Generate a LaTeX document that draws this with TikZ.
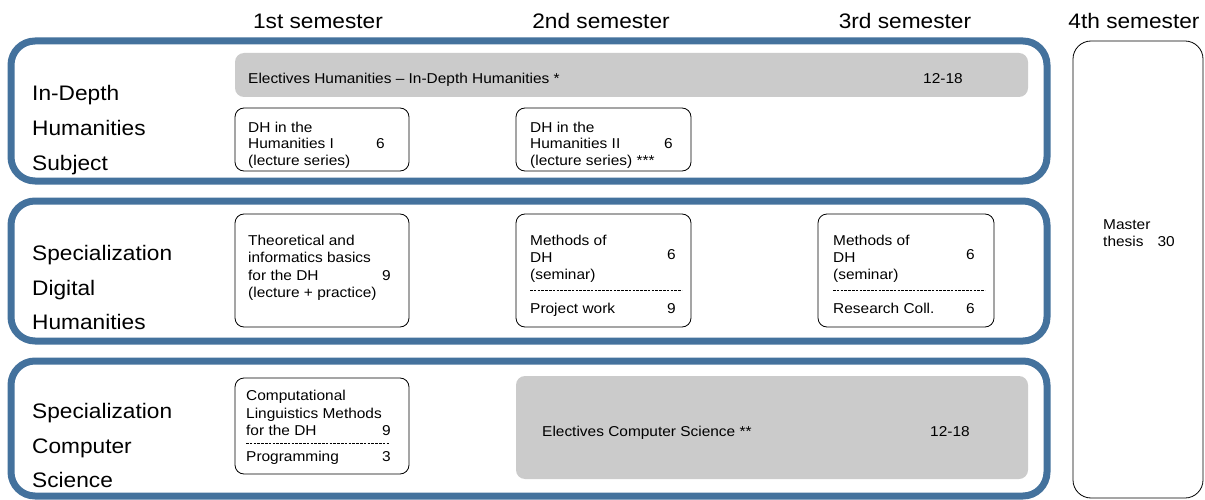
\documentclass[tikz,border=0pt]{standalone}
\usepackage{fontspec}
\setmainfont{Liberation Sans}[FakeStretch=1.08]
\definecolor{bandblue}{RGB}{68,114,157}
\definecolor{electgray}{RGB}{203,203,203}
\begin{document}
\begin{tikzpicture}[x=1pt,y=-1pt,
  band/.style={draw=bandblue,line width=7pt,rounded corners=24pt,inner sep=0pt,outer sep=0pt},
  module/.style={draw=black,line width=0.8pt,rounded corners=9pt,inner sep=0pt,outer sep=0pt,fill=white},
  elect/.style={fill=electgray,rounded corners=9pt,inner sep=0pt,outer sep=0pt},
  thesis/.style={draw=black,line width=0.8pt,rounded corners=18pt,inner sep=0pt,outer sep=0pt},
  hdr/.style={font=\fontsize{21}{24}\selectfont,anchor=base,inner sep=0pt},
  lbl/.style={font=\fontsize{21}{24}\selectfont,anchor=base west,inner sep=0pt},
  txt/.style={font=\fontsize{14.3}{16}\selectfont,anchor=base west,inner sep=0pt},
  num/.style={font=\fontsize{14.3}{16}\selectfont,anchor=base east,inner sep=0pt},
  sep/.style={line width=0.6pt,dash pattern=on 2.6pt off 1.2pt}]
\useasboundingbox (0,0) rectangle (1205,500);
% headers
\node[hdr] (h1) at (318,29) {1st semester};
\node[hdr] (h2) at (601,29) {2nd semester};
\node[hdr] (h3) at (905,29) {3rd semester};
\node[hdr] (h4) at (1134,29) {4th semester};
% bands
\node[band,minimum width=1036pt,minimum height=140pt] (b1) at (529,111) {};
\node[band,minimum width=1036pt,minimum height=140pt] (b2) at (529,271) {};
\node[band,minimum width=1036pt,minimum height=135pt] (b3) at (529,428.5) {};
% band labels
\node[lbl] (l1a) at (32,101) {In-Depth};
\node[lbl] (l1b) at (32,136) {Humanities};
\node[lbl] (l1c) at (32,171) {Subject};
\node[lbl] (l2a) at (32,260) {Specialization};
\node[lbl] (l2b) at (32,295) {Digital};
\node[lbl] (l2c) at (32,329) {Humanities};
\node[lbl] (l3a) at (32,418) {Specialization};
\node[lbl] (l3b) at (32,453) {Computer};
\node[lbl] (l3c) at (32,487) {Science};
% electives bars
\node[elect,minimum width=793pt,minimum height=44pt] (g1) at (631.5,75) {};
\node[txt] (g1t) at (248,84) {Electives Humanities – In-Depth Humanities *};
\node[txt] (g1n) at (923,84) {12-18};
\node[elect,minimum width=512pt,minimum height=103pt] (g2) at (772,427.5) {};
\node[txt] (g2t) at (542,436) {Electives Computer Science **};
\node[txt] (g2n) at (930,436) {12-18};
% DH in the Humanities I
\node[module,minimum width=174pt,minimum height=63pt] (dh1) at (322,139.5) {};
\node[txt] (dh1a) at (248,132.5) {DH in the};
\node[txt] (dh1b) at (248,149) {Humanities I};
\node[txt] (dh1c) at (248,165.5) {(lecture series)};
\node[num] (dh1n) at (385,149) {6};
% DH in the Humanities II
\node[module,minimum width=175pt,minimum height=63pt] (dh2) at (603.5,139.5) {};
\node[txt] (dh2a) at (530,132.5) {DH in the};
\node[txt] (dh2b) at (530,149) {Humanities II};
\node[txt] (dh2c) at (530,165.5) {(lecture series) ***};
\node[num] (dh2n) at (673,149) {6};
% Theoretical
\node[module,minimum width=174pt,minimum height=113pt] (th) at (322,270.5) {};
\node[txt] (tha) at (248,245) {Theoretical and};
\node[txt] (thb) at (248,262.5) {informatics basics};
\node[txt] (thc) at (248,280) {for the DH};
\node[txt] (thd) at (248,297) {(lecture + practice)};
\node[num] (thn) at (391,280) {9};
% Methods of DH (2nd)
\node[module,minimum width=175pt,minimum height=113pt] (m2) at (603.5,270.5) {};
\node[txt] (m2a) at (530,245) {Methods of};
\node[txt] (m2b) at (530,262) {DH};
\node[txt] (m2c) at (530,279) {(seminar)};
\node[num] (m2n) at (676,259) {6};
\coordinate (m2l) at (530,290);
\coordinate (m2r) at (682,290);
\draw[sep] (m2l) -- (m2r);
\node[txt] (m2d) at (530,313) {Project work};
\node[num] (m2e) at (676,313) {9};
% Methods of DH (3rd)
\node[module,minimum width=176pt,minimum height=113pt] (m3) at (906,270.5) {};
\node[txt] (m3a) at (833,245) {Methods of};
\node[txt] (m3b) at (833,262) {DH};
\node[txt] (m3c) at (833,279) {(seminar)};
\node[num] (m3n) at (975,259) {6};
\coordinate (m3l) at (833,290);
\coordinate (m3r) at (985,290);
\draw[sep] (m3l) -- (m3r);
\node[txt] (m3d) at (833,313) {Research Coll.};
\node[num] (m3e) at (975,313) {6};
% Computational Linguistics
\node[module,minimum width=174pt,minimum height=96pt] (cl) at (322,426) {};
\node[txt] (cla) at (246,400) {Computational};
\node[txt] (clb) at (246,418) {Linguistics Methods};
\node[txt] (clc) at (246,435.5) {for the DH};
\node[num] (cln) at (391,435.5) {9};
\coordinate (cll) at (246,443);
\coordinate (clr) at (390,443);
\draw[sep] (cll) -- (clr);
\node[txt] (cld) at (246,461.5) {Programming};
\node[num] (cle) at (391,461.5) {3};
% Master thesis
\node[thesis,minimum width=130pt,minimum height=457pt] (mt) at (1138,269.5) {};
\node[txt] (mta) at (1103,229) {Master};
\node[txt] (mtb) at (1103,246) {thesis};
\node[num] (mtn) at (1175,246) {30};
\end{tikzpicture}
\end{document}
